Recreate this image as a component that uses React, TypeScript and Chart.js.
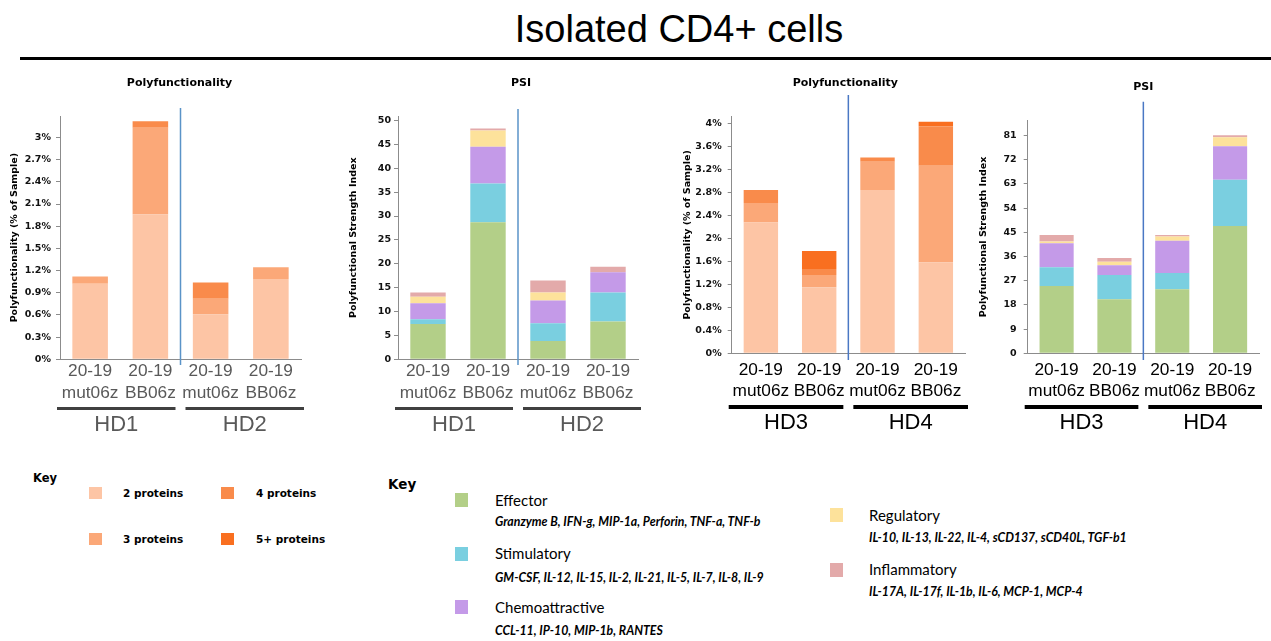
import React, { useEffect, useRef } from 'react';
import { Chart, registerables } from 'chart.js';

Chart.register(...registerables);

// ---------- data ----------
const categories = [['20-19', 'mut06z'], ['20-19', 'BB06z'], ['20-19', 'mut06z'], ['20-19', 'BB06z']];
const groupsA = ['HD1', 'HD2'];
const groupsB = ['HD3', 'HD4'];

// Polyfunctionality (% of sample), HD1 / HD2
const pfA_2p = [1.02, 1.96, 0.61, 1.085];
const pfA_3p = [0.10, 1.17, 0.21, 0.16];
const pfA_4p = [0, 0.09, 0.22, 0];
const pfA_5p = [0, 0, 0, 0];

// PSI, HD1 / HD2
const psiA_eff = [7.4, 28.7, 3.85, 7.9];
const psiA_stim = [1.0, 8.1, 3.7, 6.1];
const psiA_chemo = [3.35, 7.7, 4.75, 4.25];
const psiA_reg = [1.35, 3.4, 1.7, 0];
const psiA_inf = [0.9, 0.4, 2.5, 1.15];

// Polyfunctionality (% of sample), HD3 / HD4
const pfB_2p = [2.28, 1.15, 2.85, 1.59];
const pfB_3p = [0.34, 0.215, 0.49, 1.68];
const pfB_4p = [0.23, 0.105, 0.075, 0.69];
const pfB_5p = [0, 0.315, 0, 0.08];

// PSI, HD3 / HD4
const psiB_eff = [25.0, 20.1, 23.8, 47.4];
const psiB_stim = [7.0, 9.0, 6.1, 17.2];
const psiB_chemo = [8.9, 3.7, 12.0, 12.4];
const psiB_reg = [0.7, 1.3, 1.6, 3.4];
const psiB_inf = [2.4, 1.4, 0.5, 0.7];

const proteinKeys = ['2 proteins', '3 proteins', '4 proteins', '5+ proteins'];
const functionKeys = ['Effector', 'Stimulatory', 'Chemoattractive', 'Regulatory', 'Inflammatory'];
const functionMembers = [
  'Granzyme B, IFN-g, MIP-1a, Perforin, TNF-a, TNF-b',
  'GM-CSF, IL-12, IL-15, IL-2, IL-21, IL-5, IL-7, IL-8, IL-9',
  'CCL-11, IP-10, MIP-1b, RANTES',
  'IL-10, IL-13, IL-22, IL-4, sCD137, sCD40L, TGF-b1',
  'IL-17A, IL-17f, IL-1b, IL-6, MCP-1, MCP-4',
];

// ---------- styles ----------
const C2P = '#fdc5a5';
const C3P = '#fba878';
const C4P = '#f98b4b';
const C5P = '#f96f20';
const proteinColors = [C2P, C3P, C4P, C5P];
const CEFF = '#b3cf88';
const CSTIM = '#7acfe0';
const CCHEMO = '#c49ae8';
const CREG = '#fde29b';
const CINF = '#e3aaaa';
const functionColors = [CEFF, CSTIM, CCHEMO, CREG, CINF];
const AXIS = '#8c8c8c';

const decoPlugin = {
  id: 'deco',
  afterDraw(chart: any, _args: any, opts: any) {
    const { ctx, chartArea, scales } = chart;
    const x = scales.x;
    const mid = (x.getPixelForValue(1) + x.getPixelForValue(2)) / 2;
    ctx.save();
    ctx.textAlign = 'center';
    ctx.textBaseline = 'middle';
    ctx.fillStyle = '#000';
    ctx.font = 'bold 11px "DejaVu Sans"';
    ctx.fillText(opts.title, mid + (opts.titleDx || 0), opts.titleY);
    ctx.strokeStyle = opts.sepColor;
    ctx.lineWidth = 1.5;
    ctx.beginPath();
    ctx.moveTo(mid, opts.sepTop);
    ctx.lineTo(mid, opts.sepBottom);
    ctx.stroke();
    const spans = [
      [chartArea.left - 3, mid - 5],
      [mid + 5, chartArea.right + 3],
    ];
    spans.forEach(([a, b], i) => {
      ctx.fillStyle = opts.lineColor;
      ctx.fillRect(a, opts.lineY, b - a, opts.lineW);
      ctx.font = '22px "Liberation Sans"';
      ctx.fillStyle = opts.groupColor;
      ctx.fillText(opts.groups[i], (a + b) / 2, opts.groupY);
    });
    ctx.restore();
  },
};

function buildConfig(c: any) {
  return {
    type: 'bar',
    data: {
      labels: categories,
      datasets: c.series.map((s: any) => ({
        label: s.label,
        data: s.data,
        backgroundColor: s.color,
        borderWidth: 0,
        barPercentage: 0.59,
        categoryPercentage: 1,
      })),
    },
    options: {
      responsive: false,
      animation: false,
      devicePixelRatio: 1,
      layout: { padding: { top: c.padTop, right: c.padRight, left: 0, bottom: 0 } },
      plugins: {
        legend: { display: false },
        tooltip: { enabled: false },
        deco: c.deco,
      },
      scales: {
        x: {
          stacked: true,
          grid: { display: false, drawTicks: false },
          border: { display: true, color: AXIS, width: 1 },
          ticks: {
            color: c.labelColor,
            font: { family: '"Liberation Sans"', size: 17.3, lineHeight: c.labelLH },
            padding: c.labelPad,
            maxRotation: 0,
            minRotation: 0,
            autoSkip: false,
          },
          afterFit: (s: any) => {
            s.height = c.xH;
          },
        },
        y: {
          stacked: true,
          min: 0,
          max: c.max,
          grid: { display: true, drawOnChartArea: false, drawTicks: true, tickLength: 4, color: AXIS },
          border: { display: true, color: AXIS, width: 1 },
          ticks: {
            stepSize: c.step,
            includeBounds: false,
            color: '#111',
            padding: c.tickPad,
            font: { family: '"DejaVu Sans"', size: 9.5, weight: 'bold' },
            callback: (v: any) => c.fmt(Number(v)),
          },
          title: {
            display: true,
            text: c.yTitle,
            color: '#000',
            font: { family: '"DejaVu Sans"', size: 9.5, weight: 'bold' },
            padding: { top: c.titlePad, bottom: 0 },
          },
          afterFit: (s: any) => {
            s.width = c.yW;
          },
        },
      },
    },
    plugins: [decoPlugin],
  };
}

const pct = (v: number) => `${parseFloat(v.toFixed(2))}%`;
const num = (v: number) => `${parseFloat(v.toFixed(2))}`;

const proteinSeries = (d: number[][]) => d.map((data, i) => ({ label: proteinKeys[i], data, color: proteinColors[i] }));
const functionSeries = (d: number[][]) => d.map((data, i) => ({ label: functionKeys[i], data, color: functionColors[i] }));

const charts = [
  {
    left: 0, w: 320, padTop: 46, padRight: 19, yW: 60, xH: 80.7, max: 3.29, step: 0.3, fmt: pct, tickPad: 5,
    yTitle: 'Polyfunctionality (% of Sample)', titlePad: 9.3, labelColor: '#595959', labelLH: 1.24, labelPad: 1.5,
    series: proteinSeries([pfA_2p, pfA_3p, pfA_4p, pfA_5p]),
    deco: { title: 'Polyfunctionality', titleY: 13, titleDx: -1, sepTop: 38, sepBottom: 295, sepColor: '#5a93c8', lineY: 337, lineW: 3, lineColor: '#404040', groupY: 355, groupColor: '#595959', groups: groupsA },
  },
  {
    left: 330, w: 320, padTop: 46.2, padRight: 12, yW: 68, xH: 80.7, max: 50.9, step: 5, fmt: num, tickPad: 3,
    yTitle: 'Polyfunctional Strength Index', titlePad: 17.6, labelColor: '#595959', labelLH: 1.24, labelPad: 1.5,
    series: functionSeries([psiA_eff, psiA_stim, psiA_chemo, psiA_reg, psiA_inf]),
    deco: { title: 'PSI', titleY: 13, titleDx: 3, sepTop: 39, sepBottom: 295, sepColor: '#5a93c8', lineY: 337, lineW: 3, lineColor: '#404040', groupY: 355, groupColor: '#595959', groups: groupsA },
  },
  {
    left: 670, w: 300, padTop: 46.5, padRight: 5, yW: 61.7, xH: 86.7, max: 4.13, step: 0.4, fmt: pct, tickPad: 6,
    yTitle: 'Polyfunctionality (% of Sample)', titlePad: 12.3, labelColor: '#000', labelLH: 1.18, labelPad: 7,
    series: proteinSeries([pfB_2p, pfB_3p, pfB_4p, pfB_5p]),
    deco: { title: 'Polyfunctionality', titleY: 13, titleDx: -3, sepTop: 25, sepBottom: 290, sepColor: '#4a78c4', lineY: 335, lineW: 4, lineColor: '#000', groupY: 353, groupColor: '#000', groups: groupsB },
  },
  {
    left: 970, w: 301, padTop: 50.8, padRight: 12, yW: 57.7, xH: 86.7, max: 86.5, step: 9, fmt: num, tickPad: 7,
    yTitle: 'Polyfunctional Strength Index', titlePad: 7.6, labelColor: '#000', labelLH: 1.18, labelPad: 7,
    series: functionSeries([psiB_eff, psiB_stim, psiB_chemo, psiB_reg, psiB_inf]),
    deco: { title: 'PSI', titleY: 16.7, titleDx: 0, sepTop: 31.7, sepBottom: 290, sepColor: '#4a78c4', lineY: 335, lineW: 4, lineColor: '#000', groupY: 353, groupColor: '#000', groups: groupsB },
  },
];

function BarChart({ c }: { c: any }) {
  const ref = useRef<HTMLCanvasElement>(null);
  useEffect(() => {
    const chart = new Chart(ref.current as HTMLCanvasElement, buildConfig(c) as any);
    return () => chart.destroy();
  }, []);
  return (
    <canvas
      ref={ref}
      width={c.w}
      height={370}
      style={{ position: 'absolute', left: c.left, top: 70, width: c.w, height: 370 }}
    />
  );
}

function Txt({ x, y, size, children, style }: any) {
  const lh = Math.round(size * 1.25);
  return (
    <div
      style={{
        position: 'absolute',
        left: x,
        top: y - lh / 2,
        lineHeight: lh + 'px',
        fontSize: size,
        whiteSpace: 'nowrap',
        ...style,
      }}
    >
      {children}
    </div>
  );
}

function Swatch({ x, y, w, h, color }: any) {
  return <div style={{ position: 'absolute', left: x, top: y, width: w, height: h, background: color }} />;
}

const verdanaBold = { fontFamily: '"DejaVu Sans", sans-serif', fontWeight: 'bold', color: '#000' };
const keyFont = { fontFamily: 'Lato, sans-serif', color: '#000' };

export default function App() {
  const protPos = [
    [89, 487, 123, 493],
    [89, 533, 123, 539],
    [221, 487, 256, 493],
    [221, 533, 256, 539],
  ];
  const funcPos = [
    [455, 493, 495, 500, 521],
    [455, 547, 495, 553, 577],
    [455, 600, 495, 607, 630],
    [830, 508, 869, 515, 537],
    [830, 563, 869, 569, 591],
  ];
  return (
    <div style={{ position: 'absolute', left: 0, top: 0, width: 1271, height: 641, background: '#fff', overflow: 'hidden' }}>
      <div
        style={{
          position: 'absolute', left: 379, width: 600, top: 10, lineHeight: '38px', fontSize: 38,
          textAlign: 'center', fontFamily: '"Liberation Sans", Arial, sans-serif', color: '#000',
        }}
      >
        Isolated CD4+ cells
      </div>
      <div style={{ position: 'absolute', left: 20, top: 57, width: 1251, height: 3, background: '#000' }} />

      {charts.map((c, i) => (
        <BarChart key={i} c={c} />
      ))}

      <Txt x={33} y={478} size={11.5} style={verdanaBold}>Key</Txt>
      {proteinKeys.map((k, i) => (
        <React.Fragment key={k}>
          <Swatch x={protPos[i][0]} y={protPos[i][1]} w={13} h={12} color={proteinColors[i]} />
          <Txt x={protPos[i][2]} y={protPos[i][3]} size={10.5} style={verdanaBold}>{k}</Txt>
        </React.Fragment>
      ))}

      <Txt x={388} y={484} size={13.5} style={verdanaBold}>Key</Txt>
      {functionKeys.map((k, i) => (
        <React.Fragment key={k}>
          <Swatch x={funcPos[i][0]} y={funcPos[i][1]} w={13} h={14} color={functionColors[i]} />
          <Txt x={funcPos[i][2]} y={funcPos[i][3]} size={15} style={keyFont}>{k}</Txt>
          <Txt x={funcPos[i][2]} y={funcPos[i][4]} size={12.3} style={{ ...keyFont, fontWeight: 'bold', fontStyle: 'italic' }}>
            {functionMembers[i]}
          </Txt>
        </React.Fragment>
      ))}
    </div>
  );
}
